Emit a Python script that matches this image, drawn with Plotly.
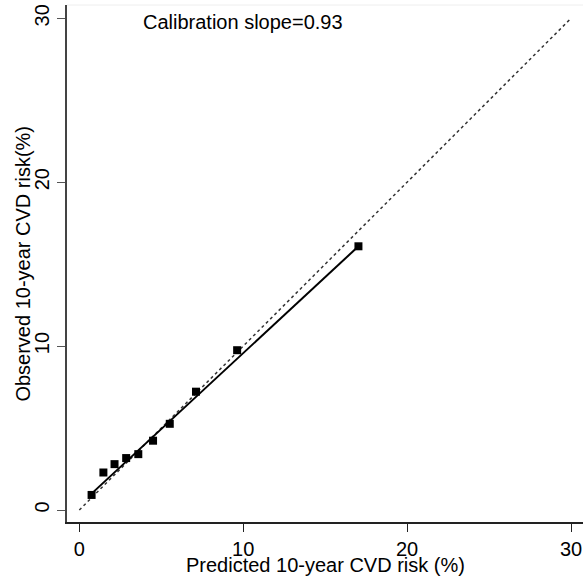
import plotly.graph_objects as go

# Data
pred_risk = [0.75, 1.47, 2.15, 2.86, 3.6, 4.5, 5.52, 7.12, 9.63, 17.03]
obs_risk = [0.92, 2.29, 2.80, 3.17, 3.41, 4.23, 5.26, 7.22, 9.75, 16.09]
fit_x = [0.75, 17.03]
fit_y = [1.0, 16.09]
ref_x = [0, 30]
ref_y = [0, 30]
tick_vals = [0, 10, 20, 30]
slope_label = "Calibration slope=0.93"
x_title = "Predicted 10-year CVD risk (%)"
y_title = "Observed 10-year CVD risk(%)"

FONT = "Liberation Sans, Arial, sans-serif"

fig = go.Figure()
fig.add_trace(go.Scatter(x=ref_x, y=ref_y, mode="lines",
                         line=dict(color="#333333", width=1.5, dash="dot"),
                         showlegend=False, hoverinfo="skip"))
fig.add_trace(go.Scatter(x=fit_x, y=fit_y, mode="lines",
                         line=dict(color="black", width=2),
                         showlegend=False))
fig.add_trace(go.Scatter(x=pred_risk, y=obs_risk, mode="markers",
                         marker=dict(symbol="square", size=8, color="black"),
                         showlegend=False))

fig.update_layout(
    width=586, height=579,
    margin=dict(l=67, r=3, t=5, b=57),
    paper_bgcolor="white", plot_bgcolor="white",
    font=dict(family=FONT, size=20, color="black"),
    xaxis=dict(range=[-0.75, 30.73], tickvals=tick_vals, ticks="outside",
               ticklen=8, tickwidth=1, tickcolor="#222222",
               showline=True, linecolor="#222222", linewidth=1.5,
               showgrid=False, zeroline=False,
               tickfont=dict(family=FONT, size=20, color="black")),
    yaxis=dict(range=[-0.73, 30.81], tickvals=tick_vals, ticks="outside",
               ticklen=8, tickwidth=1, tickcolor="#555555",
               showline=True, linecolor="#444444", linewidth=1.5,
               showgrid=False, zeroline=False, tickangle=-90,
               tickfont=dict(family=FONT, size=20, color="black")),
    shapes=[dict(type="line", xref="paper", yref="paper", x0=0, x1=1, y0=1, y1=1,
                 line=dict(color="#eeeeee", width=1))],
    annotations=[
        dict(text=slope_label, x=10, y=29.75, xref="x", yref="y",
             showarrow=False, xanchor="center", yanchor="middle",
             font=dict(family=FONT, size=20, color="black")),
        dict(text=x_title, x=0.5, xref="paper", y=-0.084, yref="paper",
             showarrow=False, xanchor="center", yanchor="middle",
             font=dict(family=FONT, size=20, color="black")),
        dict(text=y_title, x=-0.087, xref="paper", y=0.5, yref="paper",
             showarrow=False, xanchor="center", yanchor="middle", textangle=-90,
             font=dict(family=FONT, size=20, color="black")),
    ],
)

fig.write_html("out.html")
